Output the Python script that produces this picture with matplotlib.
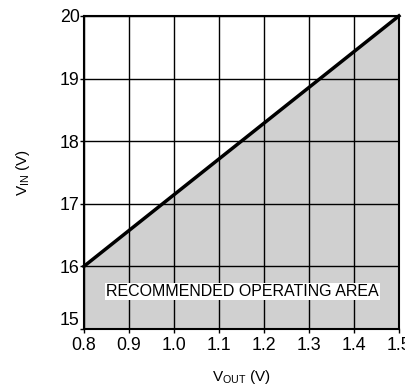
import matplotlib.pyplot as plt

plt.rcParams['font.family'] = ['Liberation Sans', 'DejaVu Sans']
plt.rcParams['mathtext.fontset'] = 'custom'
plt.rcParams['mathtext.rm'] = 'Liberation Sans'

# boundary of the recommended operating area
vout = [0.8, 1.5]
vin = [16, 20]
x_ticks = [0.8, 0.9, 1.0, 1.1, 1.2, 1.3, 1.4, 1.5]
y_ticks = [15, 16, 17, 18, 19, 20]

fig = plt.figure(figsize=(4.05, 3.88), dpi=100)
ax = fig.add_axes([0.207, 0.152, 0.778, 0.807])

ax.fill_between(vout, vin, 15, color='#d0d0d0', zorder=1)
ax.plot(vout, vin, color='black', lw=2.5, zorder=3, clip_on=False)

ax.set_xlim(0.8, 1.5)
ax.set_ylim(15, 20)
ax.set_xticks(x_ticks)
ax.set_xticklabels([f'{t:.1f}' for t in x_ticks])
ax.set_yticks(y_ticks)
ax.grid(True, color='black', lw=1.0, zorder=2)
ax.set_axisbelow(False)
for s in ax.spines.values():
    s.set_linewidth(1.5)
ax.tick_params(labelsize=12.8, length=3, width=1)
ax.tick_params(axis='x', pad=3)
ax.tick_params(axis='y', pad=0)
# lift the bottom y label a little, as in the original
ax.get_yticklabels()[0].set_va('bottom')

ax.text(1.153, 15.6, 'RECOMMENDED OPERATING AREA', ha='center', va='center',
        fontsize=11.5, zorder=4,
        bbox=dict(facecolor='white', edgecolor='none', pad=1))

ax.set_xlabel('V$_{\\mathrm{OUT}}$ (V)', fontsize=11, labelpad=10)
ax.set_ylabel('V$_{\\mathrm{IN}}$ (V)', fontsize=11, labelpad=20)

fig.savefig('out.png', dpi=100)
